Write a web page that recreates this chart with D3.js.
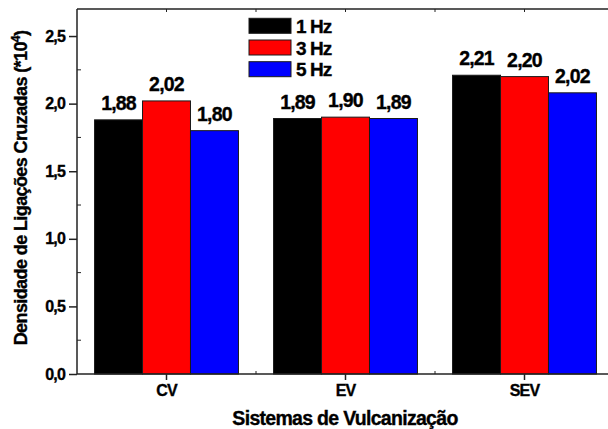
<!DOCTYPE html>
<html>
<head>
<meta charset="utf-8">
<script src="https://cdn.jsdelivr.net/npm/d3@7"></script>
<style>
  html, body { margin: 0; padding: 0; background: #fff; }
  svg { display: block; font-family: "Liberation Sans", Arial, sans-serif; font-weight: bold; }
  svg text { stroke: #000; stroke-width: 0.35px; }
</style>
</head>
<body>
<svg id="chart" width="608" height="429"></svg>
<script>
// ---- data ----
const categories = ["CV", "EV", "SEV"];
const seriesNames = ["1 Hz", "3 Hz", "5 Hz"];
const seriesColors = ["#000000", "#ff0000", "#0000ff"];
const values1Hz = [1.88, 1.89, 2.21];
const values3Hz = [2.02, 1.90, 2.20];
const values5Hz = [1.80, 1.89, 2.08];
const labels1Hz = ["1,88", "1,89", "2,21"];
const labels3Hz = ["2,02", "1,90", "2,20"];
const labels5Hz = ["1,80", "1,89", "2,02"];
const yTicks = [0, 0.5, 1.0, 1.5, 2.0, 2.5];
const yTickLabels = ["0,0", "0,5", "1,0", "1,5", "2,0", "2,5"];
const xTitle = "Sistemas de Vulcanização";
const yTitle = "Densidade de Ligações Cruzadas (*10";

const seriesValues = [values1Hz, values3Hz, values5Hz];
const seriesLabels = [labels1Hz, labels3Hz, labels5Hz];

// ---- layout ----
const mLeft = 77, mRight = 614, mTop = 9, mBottom = 374;
const svg = d3.select("#chart");

const x = d3.scaleBand().domain(categories).range([mLeft, mRight]).paddingInner(0.196).paddingOuter(0.098);
const xs = d3.scaleBand().domain(seriesNames).range([0, x.bandwidth()]).padding(0);
const y = d3.scaleLinear().domain([0, 2.7]).range([mBottom, mTop]);

// bars
const rows = [];
categories.forEach((c, ci) => {
  seriesNames.forEach((s, si) => {
    rows.push({ cat: c, ser: s, si, v: seriesValues[si][ci], lab: seriesLabels[si][ci] });
  });
});

svg.append("g").selectAll("rect").data(rows).join("rect")
  .attr("x", d => x(d.cat) + xs(d.ser))
  .attr("y", d => y(d.v))
  .attr("width", xs.bandwidth())
  .attr("height", d => y(0) - y(d.v))
  .attr("fill", d => seriesColors[d.si])
  .attr("stroke", "#1a1a1a")
  .attr("stroke-width", 1);

svg.append("g").selectAll("text").data(rows).join("text")
  .attr("x", d => x(d.cat) + xs(d.ser) + xs.bandwidth() / 2)
  .attr("y", d => y(d.v) - 10)
  .attr("text-anchor", "middle")
  .attr("font-size", 19.5)
  .attr("letter-spacing", -0.8)
  .attr("fill", "#000")
  .text(d => d.lab);

// frame lines
const axisColor = "#222";
svg.append("line").attr("x1", mLeft).attr("x2", mRight).attr("y1", mBottom).attr("y2", mBottom)
  .attr("stroke", axisColor).attr("stroke-width", 1.5);
svg.append("line").attr("x1", mLeft).attr("x2", mRight).attr("y1", mTop).attr("y2", mTop)
  .attr("stroke", axisColor).attr("stroke-width", 1.5);
svg.append("line").attr("x1", mLeft).attr("x2", mLeft).attr("y1", mTop).attr("y2", mBottom)
  .attr("stroke", axisColor).attr("stroke-width", 1.5);

// y axis
const yAxis = d3.axisLeft(y).tickValues(yTicks).tickSize(8).tickPadding(4)
  .tickFormat((d, i) => yTickLabels[i]);
const gy = svg.append("g").attr("transform", `translate(${mLeft},0)`).call(yAxis);
gy.select(".domain").remove();
gy.selectAll(".tick line").attr("stroke", axisColor).attr("stroke-width", 1.5);
gy.selectAll(".tick text").attr("font-size", 16).attr("font-family", "Liberation Sans, Arial, sans-serif")
  .attr("font-weight", "bold").attr("fill", "#000").attr("letter-spacing", -0.8);

// y minor ticks (inside)
const yMinor = d3.range(0.25, 2.7, 0.5);
svg.append("g").selectAll("line").data(yMinor).join("line")
  .attr("x1", mLeft).attr("x2", mLeft + 4)
  .attr("y1", d => y(d)).attr("y2", d => y(d))
  .attr("stroke", axisColor).attr("stroke-width", 1);

// x axis
const xAxis = d3.axisBottom(x).tickSize(6).tickPadding(5);
const gx = svg.append("g").attr("transform", `translate(0,${mBottom})`).call(xAxis);
gx.select(".domain").remove();
gx.selectAll(".tick line").attr("stroke", axisColor).attr("stroke-width", 1.5);
gx.selectAll(".tick text").attr("font-size", 16).attr("font-family", "Liberation Sans, Arial, sans-serif")
  .attr("font-weight", "bold").attr("fill", "#000").attr("letter-spacing", -0.8);

// top ticks (inside) at categories and midpoints
const catCenters = categories.map(c => x(c) + x.bandwidth() / 2);
const midPts = [];
for (let i = 0; i < catCenters.length - 1; i++) midPts.push((catCenters[i] + catCenters[i + 1]) / 2);
svg.append("g").selectAll("line").data(catCenters.concat(midPts)).join("line")
  .attr("x1", d => d).attr("x2", d => d).attr("y1", mTop).attr("y2", mTop + 3)
  .attr("stroke", axisColor).attr("stroke-width", 1);
svg.append("g").selectAll("line").data(midPts).join("line")
  .attr("x1", d => d).attr("x2", d => d).attr("y1", mBottom).attr("y2", mBottom - 3)
  .attr("stroke", axisColor).attr("stroke-width", 1);

// axis titles
svg.append("text")
  .attr("x", 345).attr("y", 425)
  .attr("text-anchor", "middle").attr("font-size", 19.5).attr("letter-spacing", -0.7)
  .text(xTitle);

const yt = svg.append("text")
  .attr("transform", "translate(27,188) rotate(-90)")
  .attr("text-anchor", "middle").attr("font-size", 18).attr("letter-spacing", -0.6);
yt.append("tspan").text(yTitle);
yt.append("tspan").attr("font-size", 12).attr("dy", -7).text("4");
yt.append("tspan").attr("dy", 7).text(")");

// legend
const lg = svg.append("g");
seriesNames.forEach((s, i) => {
  const ly = 18.3 + i * 21.7;
  lg.append("rect").attr("x", 249).attr("y", ly).attr("width", 42).attr("height", 15)
    .attr("fill", seriesColors[i]).attr("stroke", "#1a1a1a").attr("stroke-width", 1);
  lg.append("text").attr("x", 296).attr("y", ly + 14.5)
    .attr("font-size", 19).attr("letter-spacing", -0.9).text(s);
});
</script>
</body>
</html>
